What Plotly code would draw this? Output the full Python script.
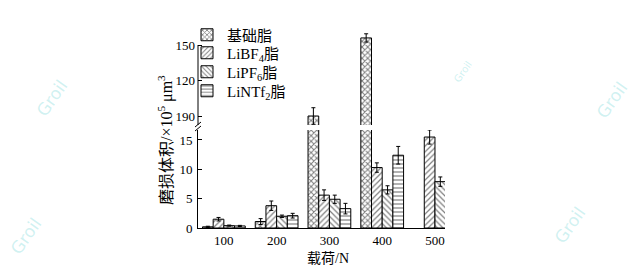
import plotly.graph_objects as go
from plotly.subplots import make_subplots

loads = [100, 200, 300, 400, 500]
series_names = ["基础脂", "LiBF<sub>4</sub>脂", "LiPF<sub>6</sub>脂", "LiNTf<sub>2</sub>脂"]
base_vals = [0.2, 1.1, 90, 156, None]
base_err = [0.1, 0.5, 7, 3.5, None]
bf4_vals = [1.5, 3.8, 5.6, 10.3, 15.5]
bf4_err = [0.3, 0.8, 0.9, 0.8, 1.2]
pf6_vals = [0.4, 2.0, 4.9, 6.5, 7.9]
pf6_err = [0.1, 0.2, 0.7, 0.7, 0.8]
ntf2_vals = [0.35, 2.1, 3.3, 12.4, None]
ntf2_err = [0.1, 0.4, 0.9, 1.5, None]
patterns = ["x", "/", "\\", "-"]
solid = [0.45, 0.3, 0.3, 0.3]

lower_ticks = [0, 5, 10, 15]
upper_tickvals = [90, 120, 150]
upper_ticktext = ["190", "120", "150"]

W, H = 630, 269
L, R, T, B = 198, 185, 30, 41
pw, ph = W - L - R, H - T - B
low_top_px, up_bot_px = 130, 125
low_dom = [0, (H - B - low_top_px) / ph]
up_dom = [(H - B - up_bot_px) / ph, 1]
lower_range = [0, 16.7]
upper_range = [82.4, 162.7]

FONT = "Liberation Serif, Times New Roman, Noto Sans CJK SC, serif"


def px2paper(px, py):
    return (px - L) / pw, (H - B - py) / ph


fig = make_subplots(rows=2, cols=1, shared_xaxes=True, vertical_spacing=0.0)

legend_ids = ["legend", "legend2", "legend3", "legend4"]
legend_py = [35, 53, 72, 91]

all_vals = [base_vals, bf4_vals, pf6_vals, ntf2_vals]
all_err = [base_err, bf4_err, pf6_err, ntf2_err]
for row in (1, 2):
    for i in range(4):
        fig.add_trace(go.Bar(
            x=loads, y=all_vals[i], name=series_names[i],
            showlegend=(row == 2), legend=legend_ids[i],
            marker=dict(color="white", line=dict(color="black", width=1),
                        pattern=dict(shape=patterns[i], fgcolor="black", bgcolor="white",
                                     size=4, solidity=solid[i])),
            error_y=dict(type="data", array=all_err[i], color="black", thickness=1, width=2),
        ), row=row, col=1)

fig.update_layout(
    width=W, height=H, margin=dict(l=L, r=R, t=T, b=B),
    paper_bgcolor="white", plot_bgcolor="white",
    barmode="group", bargap=0.19, bargroupgap=0,
    font=dict(family=FONT, size=13, color="black"),
)
for i, lid in enumerate(legend_ids):
    lx, ly = px2paper(187, legend_py[i])
    fig.update_layout({lid: dict(x=lx, y=ly, xanchor="left", yanchor="middle",
                                 bgcolor="rgba(0,0,0,0)", font=dict(size=15),
                                 itemwidth=30)})

# lower axis
fig.update_yaxes(row=2, col=1, domain=low_dom, range=lower_range, tickvals=lower_ticks,
                 showline=True, linecolor="black", linewidth=1, ticks="inside", ticklen=4,
                 tickcolor="black", showgrid=False, zeroline=False, ticklabelstandoff=2)
# upper axis
fig.update_yaxes(row=1, col=1, domain=up_dom, range=upper_range, tickvals=upper_tickvals,
                 ticktext=upper_ticktext, showline=False, ticks="inside", ticklen=4,
                 tickcolor="black", showgrid=False, zeroline=False, ticklabelstandoff=2)
fig.update_xaxes(row=2, col=1, range=[51, 519], tickvals=loads, showline=True, linecolor="black",
                 linewidth=1, ticks="", showgrid=False, zeroline=False, ticklabelstandoff=0)
fig.update_xaxes(row=1, col=1, range=[51, 519], showticklabels=False, showline=False,
                 ticks="", showgrid=False, zeroline=False)

# upper axis line from 150 down to the break
fig.add_shape(type="line", xref="paper", yref="y", x0=0, x1=0,
              y0=upper_range[0], y1=150, line=dict(color="black", width=1))

# break marks
for (a, b) in [((195, 127), (201, 122)), ((195, 131), (201, 126))]:
    x0, y0 = px2paper(*a)
    x1, y1 = px2paper(*b)
    fig.add_shape(type="line", xref="paper", yref="paper", x0=x0, y0=y0, x1=x1, y1=y1,
                  line=dict(color="black", width=1))

# axis titles
tx, ty = px2paper(165, 140)
fig.add_annotation(text="磨损体积/×10<sup>5</sup> μm<sup>3</sup>", xref="paper", yref="paper",
                   x=tx, y=ty, xanchor="center", yanchor="middle", textangle=-90,
                   showarrow=False, font=dict(size=16))
tx, ty = px2paper(328, 258)
fig.add_annotation(text="载荷/N", xref="paper", yref="paper", x=tx, y=ty,
                   xanchor="center", yanchor="middle", showarrow=False, font=dict(size=14))

# watermarks
for (wx, wy, s) in [(52, 98, 17), (26, 236, 17), (570, 225, 17), (612, 100, 17), (462, 72, 10)]:
    tx, ty = px2paper(wx, wy)
    fig.add_annotation(text="Groil", xref="paper", yref="paper", x=tx, y=ty,
                       xanchor="center", yanchor="middle", textangle=-55, showarrow=False,
                       font=dict(size=s, color="rgba(150,225,225,0.45)", family="DejaVu Sans"))

fig.write_html("out.html")
